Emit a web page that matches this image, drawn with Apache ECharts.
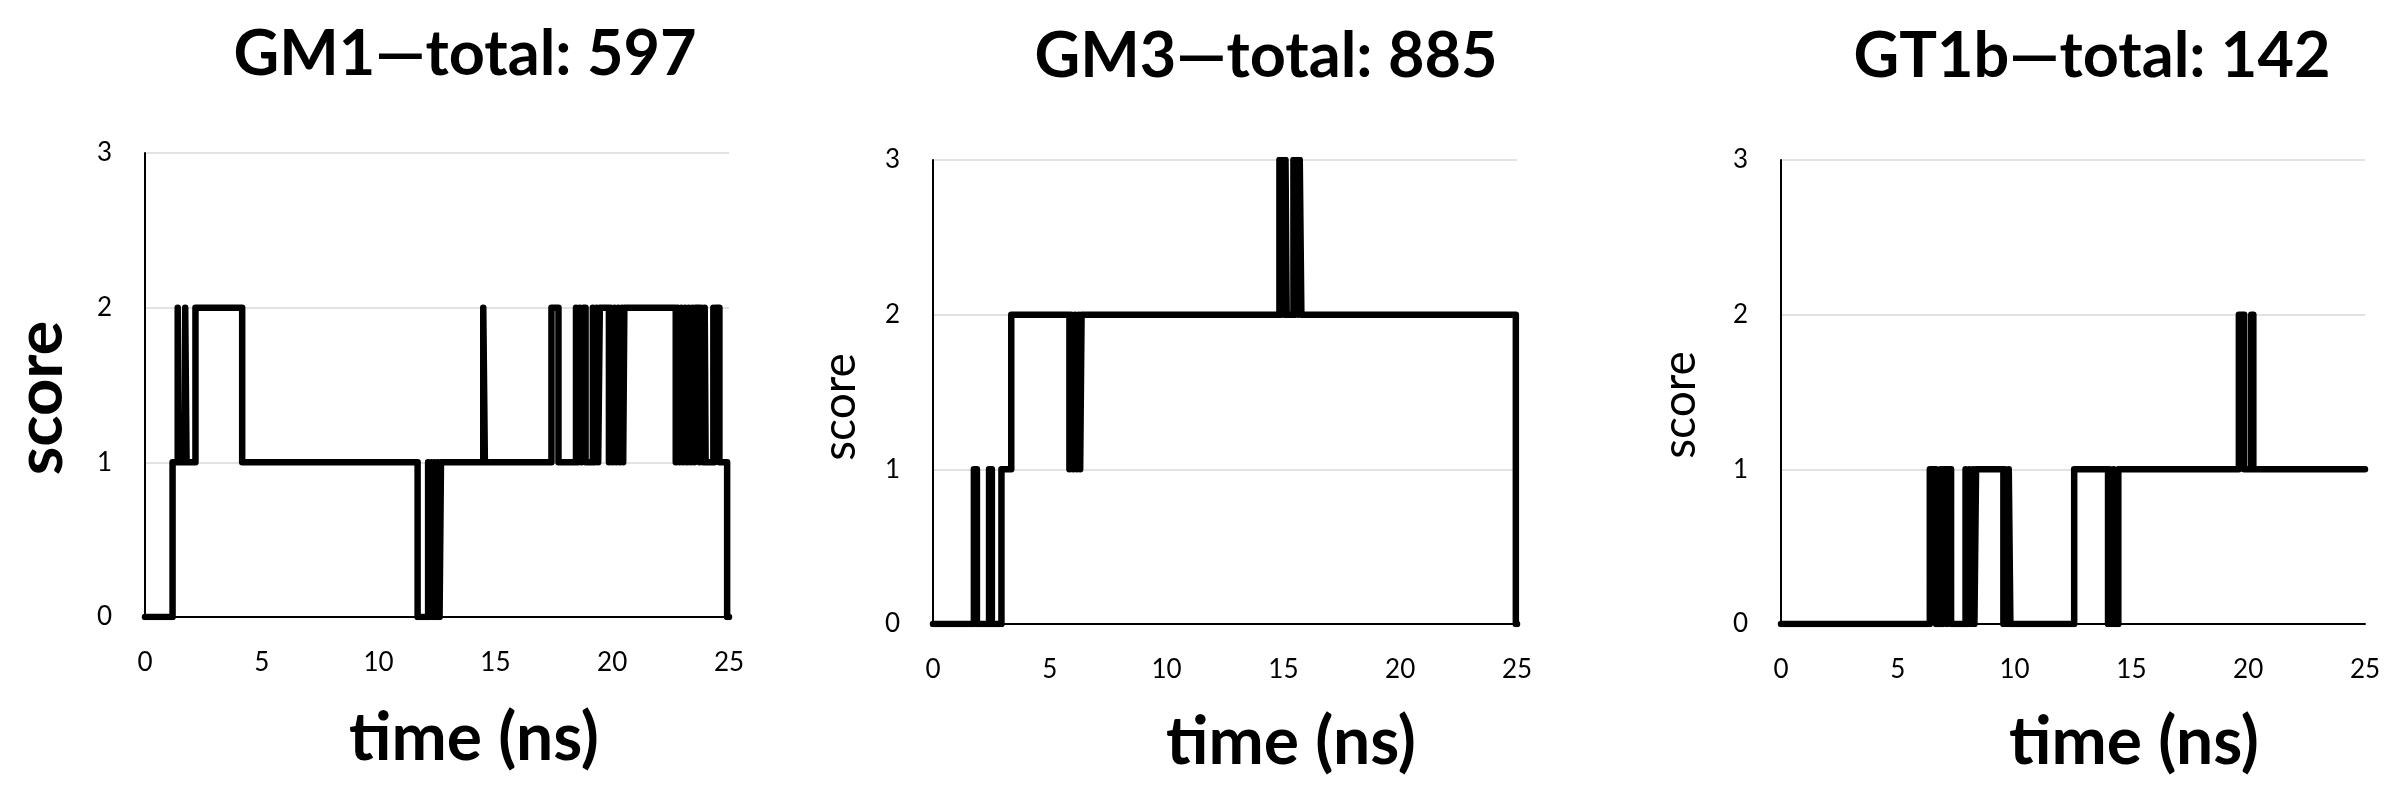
<!DOCTYPE html>
<html>
<head>
<meta charset="utf-8">
<script src="https://cdn.jsdelivr.net/npm/echarts@6/dist/echarts.min.js"></script>
<style>
  html, body { margin: 0; padding: 0; background: #fff; }
  #chart { width: 2400px; height: 797px; }
</style>
</head>
<body>
<div id="chart"></div>
<script>
// score holds from time[i] until time[i+1]
var gm1Time = [0, 1.18, 1.4, 1.46, 1.72, 1.78, 2.16, 4.16, 11.67,
  12.12, 12.19, 12.26, 12.33, 12.4, 12.47, 12.54, 12.61, 12.67,
  14.48, 14.55, 17.4, 17.7,
  18.45, 18.53, 18.61, 18.69, 18.77, 18.86, 19.17, 19.25, 19.33, 19.4, 19.47,
  19.86, 19.94, 20.02, 20.1, 20.18, 20.26, 20.34, 20.42, 20.47, 20.52,
  22.72, 22.8, 22.88, 22.96, 23.04, 23.12, 23.2, 23.28, 23.36, 23.44, 23.52, 23.56,
  23.74, 23.82, 23.9, 23.96, 24.0,
  24.33, 24.38, 24.43, 24.59, 24.92, 25];
var gm1Score = [0, 1, 2, 1, 2, 1, 2, 1, 0,
  1, 0, 1, 0, 1, 0, 1, 0, 1,
  2, 1, 2, 1,
  2, 1, 2, 1, 2, 1, 2, 1, 2, 1, 2,
  1, 2, 1, 2, 1, 2, 1, 2, 1, 2,
  1, 2, 1, 2, 1, 2, 1, 2, 1, 2, 1, 2,
  1, 2, 1, 2, 1,
  2, 1, 2, 1, 0, 0];

var gm3Time = [0, 1.75, 1.88, 2.4, 2.52, 2.93, 3.35,
  5.84, 5.92, 6.0, 6.08, 6.16, 6.24, 6.3, 6.36,
  14.83, 14.9, 14.97, 15.04, 15.09, 15.14, 15.43, 15.5, 15.57, 15.64, 15.7, 15.77,
  24.95, 25];
var gm3Score = [0, 1, 0, 1, 0, 1, 2,
  1, 2, 1, 2, 1, 2, 1, 2,
  3, 2, 3, 2, 3, 2, 3, 2, 3, 2, 3, 2,
  0, 0];

var gt1bTime = [0, 6.37, 6.64,
  6.83, 6.92, 7.0, 7.1, 7.18, 7.28,
  7.9, 7.98, 8.06, 8.14, 8.22, 8.28, 8.35,
  9.52, 9.6, 9.68, 9.75, 9.82,
  12.55,
  14.0, 14.08, 14.16, 14.24, 14.32, 14.44,
  19.6, 19.83, 20.13, 20.22, 25];
var gt1bScore = [0, 1, 0,
  1, 0, 1, 0, 1, 0,
  1, 0, 1, 0, 1, 0, 1,
  0, 1, 0, 1, 0,
  1,
  0, 1, 0, 1, 0, 1,
  2, 1, 2, 1, 1];

var panelTitles = ['GM1\u2014total: 597', 'GM3\u2014total: 885', 'GT1b\u2014total: 142'];
var xName = 'time (ns)';
var yName = 'score';

var FONT = 'Lato, "Open Sans", sans-serif';

function pairs(ts, vs) {
  var out = [];
  for (var i = 0; i < ts.length; i++) out.push([ts[i], vs[i]]);
  return out;
}

var grids = [
  { left: 145, top: 153, width: 584, height: 464 },
  { left: 933, top: 160, width: 584, height: 464 },
  { left: 1781, top: 160, width: 584, height: 464 }
];

var xAxes = [], yAxes = [];
for (var g = 0; g < 3; g++) {
  xAxes.push({
    type: 'value', gridIndex: g, min: 0, max: 25, interval: 5,
    axisLine: { show: true, onZero: false, lineStyle: { color: '#000', width: 2 } },
    axisTick: { show: false },
    splitLine: { show: false },
    axisLabel: { margin: 33, fontSize: 26, color: '#000', fontFamily: FONT }
  });
  yAxes.push({
    type: 'value', gridIndex: g, min: 0, max: 3, interval: 1,
    axisLine: { show: true, lineStyle: { color: '#000', width: 2 } },
    axisTick: { show: false },
    splitLine: { show: true, lineStyle: { color: '#d9d9d9', width: 1.5 } },
    axisLabel: { margin: 33, fontSize: 26, color: '#000', fontFamily: FONT }
  });
}

var allData = [pairs(gm1Time, gm1Score), pairs(gm3Time, gm3Score), pairs(gt1bTime, gt1bScore)];
var series = allData.map(function (d, i) {
  return {
    type: 'line', xAxisIndex: i, yAxisIndex: i, data: d,
    step: 'end', symbol: 'none', showSymbol: false, z: 5,
    lineStyle: { color: '#000', width: 6.5, cap: 'round', join: 'round' }
  };
});

function txt(x, y, s, size, weight, rot) {
  return {
    type: 'text', x: x, y: y, rotation: rot || 0, z: 10,
    style: {
      text: s, fill: '#000',
      fontSize: size, fontWeight: weight, fontFamily: FONT,
      align: 'center', verticalAlign: 'middle',
      textAlign: 'center', textVerticalAlign: 'middle'
    }
  };
}

var graphics = [
  txt(465, 55, panelTitles[0], 63, 'bold'),
  txt(1266, 57, panelTitles[1], 63, 'bold'),
  txt(2092, 57, panelTitles[2], 63, 'bold'),
  txt(474, 739, xName, 66, 'bold'),
  txt(1291, 743, xName, 66, 'bold'),
  txt(2134, 743, xName, 66, 'bold'),
  txt(41, 398, yName, 65, 'bold', Math.PI / 2),
  txt(840, 407, yName, 46, 'normal', Math.PI / 2),
  txt(1680, 405, yName, 46, 'normal', Math.PI / 2)
];

var myChart = echarts.init(document.getElementById('chart'));
var option = {
  backgroundColor: '#fff',
  animation: false,
  grid: grids,
  xAxis: xAxes,
  yAxis: yAxes,
  series: series,
  graphic: graphics
};
myChart.setOption(option);
</script>
</body>
</html>
